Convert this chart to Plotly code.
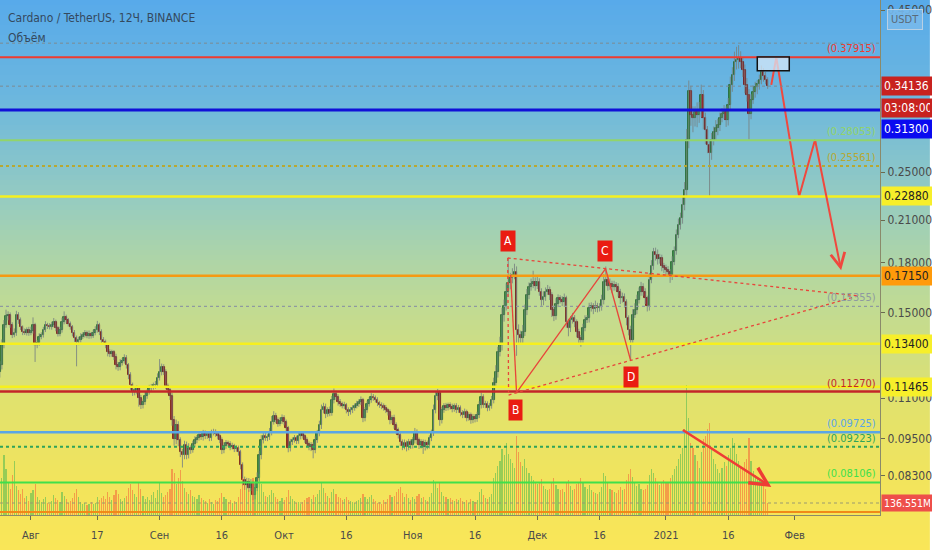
import math
import pandas as pd
import plotly.graph_objects as go

# ---------------- data (12h candles, BINANCE ADA/USDT) ----------------
close = [
 0.124, 0.1335, 0.1435, 0.148, 0.149, 0.1435, 0.1385, 0.1395, 0.149, 0.146,
 0.1423, 0.140, 0.1395, 0.141, 0.1395, 0.1405, 0.1435, 0.1335, 0.1345, 0.1375,
 0.1385, 0.141, 0.1435, 0.143, 0.1425, 0.1435, 0.145, 0.142, 0.139, 0.141,
 0.145, 0.1475, 0.146, 0.144, 0.1425, 0.1395, 0.137, 0.135, 0.136, 0.1375,
 0.1385, 0.1395, 0.138, 0.139, 0.138, 0.1395, 0.141, 0.1435, 0.140, 0.136,
 0.135, 0.1335, 0.130, 0.129, 0.130, 0.128, 0.124, 0.123, 0.125, 0.126,
 0.1275, 0.124, 0.1197, 0.1154, 0.1125, 0.1133, 0.114, 0.110, 0.1073, 0.1085,
 0.111, 0.1125, 0.114, 0.1146, 0.1154, 0.1154, 0.1185, 0.121, 0.123, 0.121,
 0.1150, 0.1133, 0.111, 0.1016, 0.095, 0.0998, 0.0945, 0.0905, 0.0895, 0.0928,
 0.0895, 0.0918, 0.0912, 0.0932, 0.0945, 0.0952, 0.0962, 0.0955, 0.0969, 0.0958,
 0.0966, 0.0952, 0.0969, 0.0973, 0.0966, 0.0959, 0.0945, 0.0912, 0.0925, 0.0935,
 0.0932, 0.0922, 0.0925, 0.0915, 0.0918, 0.0905, 0.0863, 0.0818, 0.0803, 0.0812,
 0.0795, 0.0806, 0.0774, 0.0795, 0.0824, 0.0895, 0.0945, 0.0959, 0.0952, 0.0955,
 0.0973, 0.1009, 0.1031, 0.1016, 0.1002, 0.1012, 0.1024, 0.1009, 0.0987, 0.0918,
 0.0938, 0.0945, 0.0952, 0.0942, 0.0959, 0.0966, 0.0959, 0.0945, 0.0932, 0.0922,
 0.0928, 0.0912, 0.0945, 0.0969, 0.0998, 0.1054, 0.1066, 0.1039, 0.1054, 0.1043,
 0.1093, 0.1117, 0.1105, 0.1085, 0.1077, 0.107, 0.1073, 0.1054, 0.1047, 0.1054,
 0.1062, 0.107, 0.1077, 0.1085, 0.1093, 0.1024, 0.1054, 0.1077, 0.1093, 0.1105,
 0.1101, 0.1093, 0.1081, 0.1073, 0.107, 0.1062, 0.1054, 0.1047, 0.1016, 0.1024,
 0.0998, 0.098, 0.0962, 0.0938, 0.0925, 0.0935, 0.0922, 0.0938, 0.0928, 0.0945,
 0.0973, 0.0945, 0.0928, 0.0938, 0.0922, 0.0935, 0.0928, 0.0952, 0.0969, 0.1054,
 0.1109, 0.1121, 0.1016, 0.1054, 0.107, 0.1062, 0.1073, 0.1066, 0.1058, 0.107,
 0.1054, 0.1062, 0.1043, 0.1035, 0.1047, 0.1024, 0.1035, 0.1016, 0.1028, 0.102,
 0.1035, 0.1073, 0.1105, 0.1073, 0.1077, 0.1062, 0.107, 0.1093, 0.1162, 0.121,
 0.130, 0.1335, 0.149, 0.154, 0.162, 0.167, 0.170, 0.172, 0.174, 0.141,
 0.1385, 0.137, 0.140, 0.1515, 0.160, 0.1645, 0.1665, 0.168, 0.1655, 0.1675,
 0.162, 0.157, 0.159, 0.162, 0.163, 0.160, 0.1515, 0.1485, 0.155, 0.158,
 0.157, 0.156, 0.158, 0.145, 0.142, 0.146, 0.147, 0.145, 0.140, 0.137,
 0.136, 0.142, 0.146, 0.147, 0.1525, 0.1535, 0.152, 0.154, 0.1525, 0.153,
 0.157, 0.1675, 0.169, 0.1655, 0.1665, 0.1645, 0.166, 0.165, 0.162, 0.158,
 0.159, 0.156, 0.147, 0.141, 0.136, 0.149, 0.1515, 0.157, 0.162, 0.1645,
 0.162, 0.158, 0.1535, 0.169, 0.178, 0.187, 0.185, 0.182, 0.183, 0.178,
 0.1765, 0.175, 0.174, 0.1715, 0.1805, 0.188, 0.199, 0.206, 0.2115, 0.222,
 0.234, 0.281, 0.335, 0.308, 0.304, 0.311, 0.308, 0.313, 0.330, 0.304,
 0.291, 0.276, 0.268, 0.281, 0.289, 0.293, 0.296, 0.304, 0.309, 0.311,
 0.302, 0.319, 0.343, 0.355, 0.372, 0.375, 0.378, 0.372, 0.362, 0.343,
 0.331, 0.309, 0.325, 0.334, 0.340, 0.344, 0.349, 0.359, 0.354, 0.349, 0.34136,
]
first_open = 0.121

# upper / lower wick length, % of the candle body edge
wick_up_pct = [
 1.5, 2.0, 1.8, 2.5, 1.2, 0.8, 1.0, 1.6, 1.4, 0.9,
 1.0, 0.7, 1.2, 0.9, 1.1, 1.5, 2.8, 0.8, 1.0, 1.3,
 0.9, 1.1, 1.4, 0.8, 1.0, 1.2, 1.5, 0.9, 0.7, 1.1,
 1.6, 2.2, 1.0, 0.8, 0.9, 0.7, 1.0, 0.8, 1.1, 1.3,
 0.9, 1.0, 0.8, 1.2, 0.7, 1.1, 1.3, 1.5, 0.8, 0.9,
 1.0, 0.8, 0.7, 1.1, 0.9, 0.8, 1.0, 1.2, 1.4, 1.0,
 1.2, 0.9, 0.8, 1.0, 0.9, 1.3, 1.1, 0.8, 1.2, 1.0,
 1.4, 1.0, 1.3, 1.1, 0.9, 1.5, 1.6, 4.8, 1.4, 1.2,
 1.0, 0.9, 1.1, 1.0, 1.5, 2.0, 1.4, 1.0, 1.2, 1.6,
 1.3, 1.8, 1.0, 1.2, 1.4, 1.1, 1.5, 0.9, 1.2, 1.0,
 1.1, 0.9, 1.3, 1.2, 1.0, 0.8, 0.9, 1.0, 1.4, 1.1,
 0.9, 1.0, 1.2, 0.8, 1.0, 0.9, 0.8, 1.0, 1.2, 1.5,
 1.4, 1.8, 1.2, 1.5, 2.0, 1.6, 1.8, 1.2, 1.4, 1.1,
 1.5, 2.2, 1.8, 1.2, 1.0, 1.4, 1.3, 1.0, 0.9, 0.8,
 1.2, 1.0, 1.1, 0.9, 1.3, 1.0, 0.9, 0.8, 1.0, 0.9,
 1.1, 1.0, 1.4, 1.2, 1.6, 2.0, 1.5, 1.2, 1.0, 1.3,
 1.5, 2.0, 1.2, 1.0, 1.1, 0.9, 1.2, 0.8, 1.0, 1.1,
 1.0, 0.9, 1.2, 1.0, 1.3, 0.8, 1.1, 1.2, 1.0, 1.4,
 1.1, 0.9, 1.0, 0.8, 1.0, 0.9, 1.1, 0.8, 0.9, 1.0,
 1.2, 1.0, 0.9, 1.1, 1.0, 1.3, 0.9, 1.2, 1.0, 1.1,
 1.5, 1.0, 0.9, 1.1, 1.0, 1.2, 0.9, 1.0, 1.3, 2.0,
 1.8, 1.5, 1.0, 1.2, 1.0, 1.1, 0.9, 1.0, 1.2, 0.9,
 1.0, 1.1, 0.9, 1.0, 1.2, 0.8, 1.0, 0.9, 1.1, 1.0,
 1.2, 1.4, 1.6, 1.0, 1.2, 1.0, 1.1, 1.5, 2.0, 2.5,
 2.0, 3.0, 2.5, 2.2, 3.0, 9.6, 2.0, 2.5, 3.0, 2.0,
 2.0, 1.5, 2.5, 2.0, 2.2, 1.8, 2.0, 4.0, 1.5, 2.0,
 1.5, 1.2, 2.0, 1.5, 1.8, 1.2, 1.0, 1.5, 2.0, 1.5,
 1.2, 1.5, 1.8, 1.0, 1.2, 1.5, 2.0, 1.2, 1.0, 1.1,
 1.0, 1.5, 1.8, 1.2, 2.0, 1.5, 1.2, 1.8, 1.0, 1.5,
 2.0, 3.0, 5.0, 1.5, 2.0, 1.2, 1.5, 1.0, 1.2, 1.0,
 1.5, 1.2, 1.0, 1.1, 1.5, 2.0, 2.5, 2.0, 1.5, 2.0,
 1.5, 1.2, 1.0, 2.5, 2.0, 1.5, 1.6, 2.0, 1.5, 1.2,
 1.0, 1.2, 1.5, 1.0, 2.0, 1.5, 2.0, 2.5, 2.0, 3.0,
 3.0, 4.0, 4.0, 2.0, 3.0, 2.0, 3.5, 3.0, 4.0, 2.0,
 2.0, 1.5, 2.0, 2.5, 2.0, 3.0, 2.5, 2.0, 2.0, 2.5,
 2.0, 2.5, 3.0, 3.0, 4.0, 5.0, 4.8, 2.5, 2.0, 2.0,
 2.5, 2.0, 2.0, 2.5, 2.0, 1.5, 2.0, 2.5, 1.5, 1.5, 1.0,
]
wick_dn_pct = [
 2.0, 1.5, 1.2, 1.0, 1.4, 1.0, 1.2, 0.9, 1.1, 1.3,
 1.0, 1.2, 0.8, 1.0, 1.1, 0.9, 1.0, 6.0, 1.2, 1.0,
 0.9, 1.0, 0.8, 1.1, 0.9, 1.0, 0.8, 1.2, 1.0, 0.9,
 1.0, 0.8, 1.1, 0.9, 1.0, 1.3, 1.5, 8.5, 1.2, 1.0,
 0.8, 1.0, 0.9, 1.1, 1.0, 0.8, 0.9, 1.0, 1.2, 1.3,
 1.0, 1.2, 1.5, 1.0, 0.9, 1.3, 1.5, 1.2, 1.0, 0.9,
 1.0, 1.2, 1.5, 1.8, 1.4, 1.2, 1.5, 3.0, 1.4, 1.2,
 1.0, 1.1, 0.9, 1.2, 1.0, 1.3, 0.9, 1.0, 1.2, 1.1,
 1.2, 1.3, 1.5, 2.0, 2.5, 2.0, 2.2, 1.8, 4.4, 1.5,
 1.5, 1.2, 1.4, 1.0, 1.2, 1.1, 0.9, 1.0, 1.2, 1.0,
 0.9, 1.1, 1.0, 0.8, 1.0, 1.2, 1.1, 1.5, 1.2, 1.0,
 1.0, 1.2, 0.9, 1.1, 1.0, 1.3, 1.5, 2.0, 1.8, 1.5,
 1.5, 1.2, 1.8, 1.5, 1.2, 1.0, 1.5, 1.2, 1.0, 1.1,
 1.0, 1.2, 0.9, 1.1, 1.0, 0.8, 1.0, 1.2, 1.1, 1.5,
 1.2, 1.0, 0.9, 1.1, 1.0, 1.2, 0.9, 1.0, 1.1, 1.2,
 1.5, 3.0, 1.2, 1.0, 1.1, 1.4, 1.2, 1.5, 1.0, 1.2,
 1.0, 1.2, 1.1, 1.3, 1.0, 0.9, 1.1, 1.2, 1.5, 1.0,
 1.1, 1.0, 0.9, 1.0, 1.1, 1.5, 1.2, 1.0, 0.9, 1.0,
 1.0, 0.9, 1.1, 1.0, 1.2, 1.0, 1.1, 1.3, 1.5, 1.2,
 1.3, 1.5, 1.2, 1.4, 1.5, 1.2, 1.6, 1.2, 1.4, 1.2,
 1.2, 1.5, 1.4, 1.2, 2.5, 1.3, 1.5, 1.2, 1.1, 1.0,
 1.2, 1.5, 2.0, 1.2, 1.0, 1.1, 0.9, 1.0, 1.2, 1.0,
 1.1, 1.0, 1.2, 1.1, 1.0, 1.2, 1.0, 1.3, 1.1, 1.2,
 1.0, 1.1, 1.2, 1.0, 1.1, 1.2, 1.0, 1.0, 1.2, 1.5,
 2.0, 1.5, 2.0, 2.5, 1.8, 2.0, 2.2, 1.8, 1.5, 9.0,
 3.0, 2.5, 2.0, 1.5, 1.8, 1.5, 1.2, 1.5, 1.8, 1.2,
 1.5, 2.0, 1.8, 1.5, 1.2, 1.8, 2.5, 2.0, 1.5, 1.2,
 1.2, 1.5, 1.8, 2.0, 3.0, 1.5, 1.2, 1.8, 2.0, 2.2,
 2.5, 1.5, 1.2, 1.0, 1.5, 1.2, 1.8, 1.0, 1.5, 1.2,
 1.2, 1.5, 1.2, 1.8, 1.5, 2.0, 1.2, 1.5, 1.8, 2.0,
 1.5, 2.0, 2.5, 2.0, 7.0, 1.5, 1.2, 1.5, 1.2, 1.5,
 1.5, 2.0, 1.8, 1.5, 1.2, 1.5, 2.0, 1.8, 1.5, 2.0,
 1.8, 2.0, 1.5, 2.5, 1.5, 1.2, 1.5, 1.2, 1.5, 2.0,
 2.0, 2.5, 3.0, 4.0, 5.0, 3.0, 4.5, 3.0, 2.5, 4.0,
 5.0, 3.0, 14.6, 2.5, 2.0, 3.0, 2.5, 2.0, 1.5, 2.0,
 2.5, 2.0, 2.0, 2.5, 2.0, 2.5, 3.0, 2.0, 2.5, 3.0,
 2.5, 9.0, 2.0, 1.5, 2.0, 2.5, 2.0, 1.5, 2.0, 1.5, 1.0,
]
volume_m = [
 250, 420, 680, 520, 380, 300, 450, 610, 330, 280,
 240, 300, 190, 220, 160, 250, 280, 350, 200, 170,
 150, 180, 210, 140, 130, 160, 230, 190, 170, 150,
 260, 220, 180, 140, 160, 190, 250, 300, 210, 150,
 120, 140, 110, 130, 150, 120, 140, 210, 170, 190,
 220, 180, 260, 200, 170, 230, 280, 240, 180, 160,
 190, 220, 310, 350, 290, 240, 210, 380, 300, 220,
 180, 200, 170, 230, 260, 190, 280, 360, 250, 210,
 230, 260, 300, 520, 480, 350, 420, 510, 390, 310,
 260, 240, 280, 220, 200, 180, 230, 190, 170, 160,
 140, 180, 150, 130, 170, 160, 190, 250, 210, 180,
 150, 170, 140, 160, 150, 210, 300, 420, 380, 300,
 280, 330, 420, 360, 380, 470, 350, 260, 220, 200,
 230, 280, 250, 200, 180, 160, 190, 170, 210, 280,
 220, 180, 160, 140, 150, 130, 150, 170, 190, 200,
 180, 230, 210, 240, 290, 370, 310, 250, 220, 190,
 260, 300, 240, 210, 190, 170, 180, 200, 170, 160,
 150, 140, 160, 170, 190, 240, 200, 180, 210, 230,
 180, 160, 140, 150, 130, 170, 150, 180, 230, 210,
 220, 260, 300, 320, 250, 200, 240, 190, 170, 210,
 180, 220, 240, 190, 200, 170, 160, 210, 250, 400,
 360, 310, 380, 260, 220, 200, 180, 190, 170, 160,
 180, 170, 190, 160, 150, 170, 140, 180, 160, 150,
 170, 260, 300, 230, 190, 180, 200, 240, 420, 480,
 560, 620, 750, 680, 820, 700, 640, 590, 540, 900,
 720, 600, 560, 640, 530, 480, 440, 400, 380, 350,
 360, 410, 330, 300, 280, 300, 380, 420, 340, 300,
 280, 300, 260, 380, 400, 330, 290, 300, 350, 380,
 420, 360, 320, 300, 340, 280, 260, 250, 240, 260,
 320, 480, 440, 360, 300, 280, 260, 250, 290, 320,
 280, 300, 400, 470, 520, 430, 360, 330, 350, 300,
 280, 300, 340, 450, 520, 480, 420, 360, 340, 380,
 400, 360, 380, 420, 450, 520, 560, 640, 700, 760,
 980, 1480, 1100, 820, 760, 680, 620, 540, 720, 860,
 900, 980, 1050, 760, 640, 580, 520, 480, 540, 600,
 560, 680, 760, 880, 820, 700, 620, 560, 520, 600,
 640, 880, 620, 500, 460, 420, 400, 380, 340, 300, 136.551,
]

# horizontal levels drawn on the chart
level_prices = [0.37915, 0.313, 0.28053, 0.25561, 0.2288, 0.1715, 0.15355,
                0.134, 0.11465, 0.1127, 0.09725, 0.09223, 0.08106, 0.0728]
level_colors = ["#ee3b30", "#1010d8", "#92d46a", "#b8a832", "#f6f01e", "#f59a12", "#8f9aa0",
                "#f6f01e", "#f6f01e", "#c3262a", "#5aa6e6", "#2fa35a", "#3fe04a", "#f08a18"]
level_widths = [2, 3, 2, 2, 2.5, 2.5, 1.2, 2.5, 2.5, 2.5, 2.5, 2, 2, 2]
level_dash = ["solid", "solid", "solid", "dot", "solid", "solid", "dot",
              "solid", "solid", "solid", "solid", "dot", "solid", "solid"]
level_tags = {0.37915: "(0.37915)", 0.28053: "(0.28053)", 0.25561: "(0.25561)", 0.15355: "(0.15355)",
              0.1127: "(0.11270)", 0.09725: "(0.09725)", 0.09223: "(0.09223)", 0.08106: "(0.08106)"}
axis_boxes = [(0.22880, "#f7ef2a", "#222"), (0.17150, "#ff9a0a", "#222"),
              (0.13400, "#f7ef2a", "#222"), (0.11465, "#f7ef2a", "#222")]
price_ticks = [0.45, 0.25, 0.21, 0.18, 0.15, 0.11, 0.095, 0.083]
month_ticks = ["2020-08-01", "2020-08-17", "2020-09-01", "2020-09-16", "2020-10-01", "2020-10-16",
               "2020-11-01", "2020-11-16", "2020-12-01", "2020-12-16", "2021-01-01", "2021-01-16",
               "2021-02-01"]
month_text = ["Авг", "17", "Сен", "16", "Окт", "16", "Ноя", "16", "Дек", "16", "2021", "16", "Фев"]

# drawing anchors (date, price)
pt_A = ("2020-11-23 21:00", 0.183)
pt_A2 = ("2020-11-24 14:00", 0.172)
pt_Bl = ("2020-11-24 02:00", 0.1113)
pt_B = ("2020-11-26 00:00", 0.1123)
pt_C = ("2020-12-17 11:00", 0.176)
pt_D = ("2020-12-23 11:00", 0.1264)
pt_apex = ("2021-02-16 06:00", 0.1595)
forecast_dates = ["2021-01-26 09:00", "2021-01-27 14:00", "2021-02-02 02:00", "2021-02-05 22:00"]
forecast_prices = [0.343, 0.379, 0.2288, 0.281]
forecast_end = ("2021-02-12 05:00", 0.175)
vol_arrow = (("2021-01-04 17:00", 0.0984), ("2021-01-26 09:00", 0.0797))
box = ("2021-01-23 00:00", "2021-01-30 17:00", 0.361, 0.3795)

# ---------------- build ----------------
FONT = "DejaVu Sans Condensed, Liberation Sans Narrow, Arial Narrow, sans-serif"
L = math.log10
n = len(close)
dates = pd.date_range("2020-07-24 12:00", periods=n, freq="12h")
opens = [first_open] + close[:-1]
body_hi = [max(o, c) for o, c in zip(opens, close)]
body_lo = [min(o, c) for o, c in zip(opens, close)]
high = [h * (1 + u / 100) for h, u in zip(body_hi, wick_up_pct)]
low = [l * (1 - d / 100) for l, d in zip(body_lo, wick_dn_pct)]
up = [c >= o for o, c in zip(opens, close)]
HALF_DAY_MS = 12 * 3600 * 1000

fig = go.Figure()

vcol = ["rgba(76,184,80,0.55)" if u else "rgba(244,110,60,0.6)" for u in up]
fig.add_trace(go.Bar(x=dates, y=volume_m, yaxis="y2", marker=dict(color=vcol, line=dict(width=0)),
                     width=0.55 * HALF_DAY_MS, hoverinfo="skip"))

wx, wy = [], []
for d, lo_, hi_ in zip(dates, low, high):
    wx += [d, d, None]
    wy += [lo_, hi_, None]
fig.add_trace(go.Scatter(x=wx, y=wy, mode="lines", line=dict(color="rgba(120,130,130,0.85)", width=1),
                         hoverinfo="skip"))

# candle bodies
fig.add_trace(go.Bar(x=dates, base=body_lo, y=[h - l for h, l in zip(body_hi, body_lo)],
                     width=0.8 * HALF_DAY_MS, yaxis="y",
                     marker=dict(color=["#34913f" if u else "#a01c1c" for u in up],
                                 line=dict(color=["#1d5e26" if u else "#6a0e0e" for u in up], width=0.8)),
                     hoverinfo="skip"))

# forecast path
fig.add_trace(go.Scatter(x=forecast_dates, y=forecast_prices, mode="lines",
                         line=dict(color="#f0483e", width=2), hoverinfo="skip"))

shapes = []
# background gradient
stops = [(0, (88, 170, 234)), (100, (108, 183, 222)), (200, (150, 204, 192)), (300, (190, 218, 150)),
         (400, (224, 226, 110)), (480, (242, 228, 92)), (550, (249, 230, 88))]
H = 550
PH = 515
for k in range(0, H, 5):
    yc = k + 2.5
    for (a, ca), (b, cb) in zip(stops[:-1], stops[1:]):
        if a <= yc <= b:
            t = (yc - a) / (b - a)
            col = tuple(int(round(ca[j] + (cb[j] - ca[j]) * t)) for j in range(3))
            break
    shapes.append(dict(type="rect", xref="paper", yref="paper", x0=0, x1=932 / 882,
                       y0=1 - (k + 5) / PH, y1=1 - k / PH, fillcolor="rgb(%d,%d,%d)" % col,
                       line=dict(width=0), layer="below"))

# dotted reference lines (shape coordinates are data values on the log axis)
for p in [0.399, 0.34136]:
    shapes.append(dict(type="line", xref="paper", x0=0, x1=1, yref="y", y0=p, y1=p,
                       line=dict(color="#7d8a90", width=1, dash="dot")))
shapes.append(dict(type="line", xref="paper", x0=0, x1=1, yref="y2", y0=volume_m[-1], y1=volume_m[-1],
                   line=dict(color="#9a9a70", width=1, dash="dot")))
for p, c, w, ds in zip(level_prices, level_colors, level_widths, level_dash):
    shapes.append(dict(type="line", xref="paper", x0=0, x1=1, yref="y", y0=p, y1=p,
                       line=dict(color=c, width=w, dash=ds)))

def seg(p, q, dash="solid", w=1.3):
    shapes.append(dict(type="line", xref="x", yref="y", x0=p[0], y0=p[1], x1=q[0], y1=q[1],
                       line=dict(color="#e8453a", width=w, dash=dash)))

seg(pt_A, pt_apex, "dot")
seg(pt_Bl, pt_apex, "dot")
seg(pt_A, pt_Bl, "dot")
seg(pt_A2, pt_B)
seg(pt_B, pt_C)
seg(pt_C, pt_D)

shapes.append(dict(type="rect", xref="x", yref="y", x0=box[0], x1=box[1], y0=box[2], y1=box[3],
                   fillcolor="rgba(215,232,248,0.75)", line=dict(color="#111", width=1.5)))

ann = []
for p, c in zip(level_prices, level_colors):
    if p in level_tags:
        ann.append(dict(xref="paper", x=0.998, xanchor="right", yref="y", y=L(p), yanchor="bottom",
                        text=level_tags[p], showarrow=False, font=dict(size=11, color=c, family=FONT)))

def axbox(yref, y, text, bg, fg, size=12):
    ann.append(dict(xref="paper", x=1, xanchor="left", yref=yref, y=y, yanchor="middle", text=text,
                    showarrow=False, bgcolor=bg, font=dict(size=size, color=fg, family=FONT),
                    width=46, align="left", borderpad=2, xshift=1))

for p, bg, fg in axis_boxes:
    axbox("y", L(p), "%.5f" % p, bg, fg)
axbox("y", L(0.34136), "0.34136", "#c8221f", "white")
axbox("paper", 1 - 108 / PH, "03:08:00", "#c8221f", "white")
axbox("paper", 1 - 129 / PH, "0.31300", "#0a0af0", "white")
axbox("y2", volume_m[-1], "136.551M", "#ee4f4a", "white", size=10.5)

for lab, (d, p) in zip("ABCD", [("2020-11-23 21:00", 0.1944), ("2020-11-25 20:00", 0.1054),
                                 ("2020-12-17 05:00", 0.1875), ("2020-12-23 11:00", 0.1188)]):
    ann.append(dict(x=d, y=L(p), xref="x", yref="y", text=lab, showarrow=False, bgcolor="#ea1c12",
                    font=dict(size=12, color="white", family=FONT), borderpad=3))

ann.append(dict(x=forecast_end[0], y=L(forecast_end[1]), ax=forecast_dates[-1], ay=L(forecast_prices[-1]),
                xref="x", yref="y", axref="x", ayref="y", text="", showarrow=True, arrowhead=5,
                arrowsize=1.4, arrowwidth=2, arrowcolor="#f0483e"))
ann.append(dict(x=vol_arrow[1][0], y=L(vol_arrow[1][1]), ax=vol_arrow[0][0], ay=L(vol_arrow[0][1]),
                xref="x", yref="y", axref="x", ayref="y", text="", showarrow=True, arrowhead=5,
                arrowsize=1.4, arrowwidth=2.5, arrowcolor="#ee3d35"))

ann.append(dict(xref="paper", x=0, xshift=6, xanchor="left", yref="paper", y=1 - 18 / PH, yanchor="middle",
                text="Cardano / TetherUS, 12Ч, BINANCE", showarrow=False,
                font=dict(size=12, color="#34495e", family=FONT)))
ann.append(dict(xref="paper", x=0, xshift=6, xanchor="left", yref="paper", y=1 - 38 / PH, yanchor="middle",
                text="Объём", showarrow=False, font=dict(size=12, color="#34495e", family=FONT)))
ann.append(dict(xref="paper", x=907 / 882, xanchor="center", yref="paper", y=1 - 19 / PH, yanchor="middle",
                text="USDT", showarrow=False, font=dict(size=11, color="#5a6a78", family=FONT),
                bgcolor="rgba(120,185,235,0.9)", bordercolor="#b8d0e4", borderwidth=1, borderpad=3))

x_left = pd.Timestamp("2020-08-01") - pd.Timedelta(days=31 / 4.16)
x_right = pd.Timestamp("2020-08-01") + pd.Timedelta(days=(882 - 31) / 4.16)
ymin = 0.25 * math.exp(-(PH - 172) / 275.6)
ymax = 0.25 * math.exp(172 / 275.6)

fig.update_layout(
    width=932, height=550, margin=dict(l=0, r=50, t=0, b=35),
    paper_bgcolor="rgba(0,0,0,0)", plot_bgcolor="rgba(0,0,0,0)", showlegend=False,
    shapes=shapes, annotations=ann, barmode="overlay", bargap=0,
    xaxis=dict(type="date", range=[x_left, x_right], rangeslider=dict(visible=False), showgrid=False,
               tickvals=month_ticks, ticktext=month_text, ticks="outside", ticklen=4, tickcolor="#6a6a50",
               ticklabelstandoff=6,
               showline=True, linecolor="#8a8a6a", linewidth=1, zeroline=False,
               tickfont=dict(size=11, color="#4a4a4a", family=FONT)),
    yaxis=dict(type="log", range=[L(ymin), L(ymax)], side="right", showgrid=False, zeroline=False,
               tickvals=price_ticks, ticktext=["%.5f" % v for v in price_ticks], ticks="outside",
               ticklen=4, tickcolor="#6a6a50", showline=True, linecolor="#8a8a6a", linewidth=1,
               tickfont=dict(size=12, color="#4a4a4a", family=FONT)),
    yaxis2=dict(overlaying="y", range=[0, PH / 130 * 1480], visible=False),
)

fig.write_html("out.html", config={"displayModeBar": False},
               post_script="document.body.style.margin='0';")
